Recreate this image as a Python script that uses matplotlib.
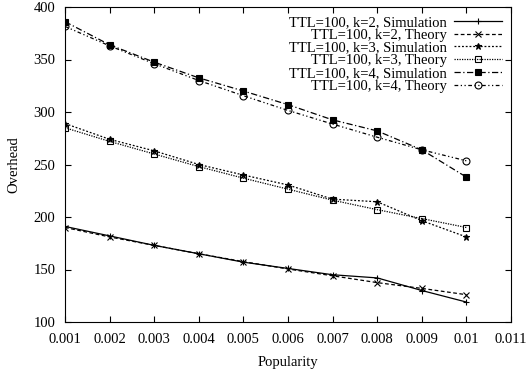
import matplotlib
matplotlib.use("Agg")
import matplotlib.pyplot as plt

plt.rcParams['font.family'] = ['Liberation Serif', 'DejaVu Serif']
plt.rcParams['font.size'] = 10.5

popularity = [0.001, 0.002, 0.003, 0.004, 0.005, 0.006, 0.007, 0.008, 0.009, 0.01]

k2_sim = [191, 182, 173, 165, 157, 151, 145, 142, 130, 119]
k2_theory = [190, 181, 173, 165, 157.5, 150.5, 144, 137.5, 132, 126]
k3_sim = [289, 274, 263, 250, 240, 230.5, 217, 214.5, 196.5, 181]
k3_theory = [285, 272, 260, 248, 237, 226.5, 216, 207, 198.5, 190]
k4_sim = [386, 364, 347.5, 332.5, 320, 307, 292.5, 282, 264, 238]
k4_theory = [381.5, 363, 346, 330, 315.5, 301.5, 288.5, 276, 264, 253.5]

series = [
    (k2_sim, 'TTL=100, k=2, Simulation', '-', '+', 'k'),
    (k2_theory, 'TTL=100, k=2, Theory', (0, (3, 2)), 'x', 'k'),
    (k3_sim, 'TTL=100, k=3, Simulation', (0, (1.5, 1.5)), '*', 'k'),
    (k3_theory, 'TTL=100, k=3, Theory', (0, (1, 1)), 's', 'none'),
    (k4_sim, 'TTL=100, k=4, Simulation', (0, (5, 2, 1, 2)), 's', 'k'),
    (k4_theory, 'TTL=100, k=4, Theory', (0, (3, 2, 1, 2, 1, 2)), 'o', 'none'),
]

fig = plt.figure(figsize=(5.27, 3.72), dpi=100)
ax = fig.add_axes([65 / 527, 50 / 372, 446 / 527, 315 / 372])

for values, label, ls, marker, mfc in series:
    ax.plot(popularity, values, linestyle=ls, marker=marker, color='k',
            markerfacecolor=mfc, markeredgecolor='k', markersize=5,
            linewidth=0.9, markeredgewidth=0.8, label=label)

ax.set_xlim(0.001, 0.011)
ax.set_ylim(100, 400)
ax.set_xticks([0.001, 0.002, 0.003, 0.004, 0.005, 0.006, 0.007, 0.008, 0.009, 0.01, 0.011])
ax.set_xticklabels(['0.001', '0.002', '0.003', '0.004', '0.005', '0.006',
                    '0.007', '0.008', '0.009', '0.01', '0.011'])
ax.set_yticks([100, 150, 200, 250, 300, 350, 400])
ax.tick_params(direction='in', top=True, right=True, length=4, width=0.8)
ax.tick_params(axis='x', pad=8)
ax.tick_params(axis='y', pad=7)
ax.set_xlabel('Popularity', labelpad=7)
ax.set_ylabel('Overhead', labelpad=9)

ax.legend(loc='upper right', markerfirst=False, frameon=False,
          handlelength=3.3, labelspacing=-0.03, borderaxespad=0.2,
          handletextpad=0.5, fontsize=10.5)

fig.savefig('out.png', dpi=100)
